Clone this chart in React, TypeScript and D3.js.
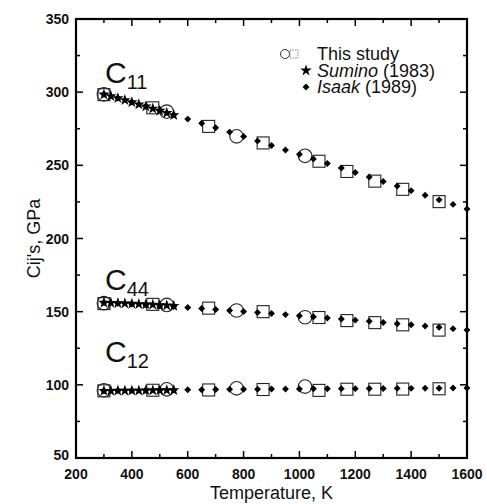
import React from "react";
import * as d3 from "d3";

// ---- data ----
const T_CIRC = [300, 525, 775, 1020];
const C11_CIRC = [298.5, 286.7, 269.8, 256.5];
const C44_CIRC = [155.8, 154.6, 150.8, 146.2];
const C12_CIRC = [96.3, 96.9, 97.6, 98.8];

const T_SQ = [300, 475, 675, 870, 1070, 1170, 1270, 1370, 1500];
const C11_SQ = [298.3, 289.3, 276.6, 265.3, 252.8, 245.8, 239.2, 233.6, 225.2];
const C44_SQ = [155.5, 155.0, 152.4, 150.0, 146.0, 143.9, 142.5, 141.0, 137.4];
const C12_SQ = [95.9, 96.3, 96.5, 96.8, 96.2, 97.0, 97.0, 97.1, 97.3];

const T_SUMINO = [300, 325, 350, 375, 400, 425, 450, 475, 500, 525, 550];
const C11_SUMINO = [298.4, 297.3, 296.0, 294.6, 293.1, 291.7, 290.2, 288.8, 287.3, 285.8, 284.3];
const C44_SUMINO = [156.1, 156.0, 155.8, 155.6, 155.4, 155.2, 155.0, 154.8, 154.5, 154.3, 154.0];
const C12_SUMINO = [95.9, 95.9, 96.0, 96.0, 96.1, 96.1, 96.2, 96.2, 96.3, 96.3, 96.4];

const T_ISAAK = [300, 350, 400, 450, 500, 550, 600, 650, 700, 750, 800, 850, 900, 950, 1000,
  1050, 1100, 1150, 1200, 1250, 1300, 1350, 1400, 1450, 1500, 1550, 1600];
const C11_ISAAK = [298.5, 296.0, 293.2, 290.4, 287.6, 284.6, 281.6, 278.7, 275.7, 272.7, 269.7,
  266.7, 263.6, 260.5, 257.5, 254.4, 251.3, 248.2, 245.1, 242.0, 238.9, 235.8, 232.7, 229.5,
  226.4, 223.3, 220.2];
const C44_ISAAK = [156.2, 155.8, 155.3, 154.7, 154.1, 153.5, 152.9, 152.2, 151.5, 150.8, 150.1,
  149.4, 148.7, 148.0, 147.2, 146.5, 145.7, 145.0, 144.2, 143.4, 142.6, 141.8, 141.0, 140.2,
  139.3, 138.4, 137.5];
const C12_ISAAK = [96.0, 96.1, 96.2, 96.3, 96.4, 96.5, 96.6, 96.7, 96.8, 96.9, 97.0, 97.0, 97.1,
  97.2, 97.2, 97.3, 97.3, 97.4, 97.4, 97.5, 97.5, 97.6, 97.6, 97.7, 97.7, 97.8, 97.8];

const X_TICKS = [200, 400, 600, 800, 1000, 1200, 1400, 1600];
const X_MINOR = [300, 500, 700, 900, 1100, 1300, 1500];
const Y_TICKS = [50, 100, 150, 200, 250, 300, 350];
const Y_MINOR = [75, 125, 175, 225, 275, 325];

const LABELS = [
  { main: "C", sub: "11", v: 306.5 },
  { main: "C", sub: "44", v: 165 },
  { main: "C", sub: "12", v: 115.8 },
];

const LEGEND = [
  { kind: "study", text: "This study", italic: "" },
  { kind: "star", text: " (1983)", italic: "Sumino" },
  { kind: "diamond", text: " (1989)", italic: "Isaak" },
];

export default function App() {
  const W = 487, H = 504;
  const L = 76, R = 467, T = 19, B = 458;
  const x = d3.scaleLinear().domain([200, 1600]).range([L, R]);
  const y = d3.scaleLinear().domain([50, 350]).range([B, T]);
  const font = "'Liberation Sans', Arial, Helvetica, sans-serif";

  const star = d3.symbol().type(d3.symbolStar).size(42)();
  const diamond = d3.symbol().type(d3.symbolSquare).size(24)();
  const sq = 12;
  const rC = 6.8;

  const series = [
    { circ: C11_CIRC, sq: C11_SQ, sum: C11_SUMINO, isa: C11_ISAAK },
    { circ: C44_CIRC, sq: C44_SQ, sum: C44_SUMINO, isa: C44_ISAAK },
    { circ: C12_CIRC, sq: C12_SQ, sum: C12_SUMINO, isa: C12_ISAAK },
  ];

  const maj = 7, mnr = 4;

  return (
    <svg width={W} height={H} style={{ position: "absolute", left: 0, top: 0, background: "#fff" }}
      fontFamily={font}>
      <rect width={W} height={H} fill="#fff" />
      {/* ticks */}
      <g stroke="#000" strokeWidth={1.5}>
        {X_TICKS.map((t) => (
          <g key={"xt" + t}>
            <line x1={x(t)} x2={x(t)} y1={B} y2={B - maj} />
            <line x1={x(t)} x2={x(t)} y1={T} y2={T + maj} />
          </g>
        ))}
        {X_MINOR.map((t) => (
          <g key={"xm" + t}>
            <line x1={x(t)} x2={x(t)} y1={B} y2={B - mnr} />
            <line x1={x(t)} x2={x(t)} y1={T} y2={T + mnr} />
          </g>
        ))}
        {Y_TICKS.map((t) => (
          <g key={"yt" + t}>
            <line y1={y(t)} y2={y(t)} x1={L} x2={L + maj} />
            <line y1={y(t)} y2={y(t)} x1={R} x2={R - maj} />
          </g>
        ))}
        {Y_MINOR.map((t) => (
          <g key={"ym" + t}>
            <line y1={y(t)} y2={y(t)} x1={L} x2={L + mnr} />
            <line y1={y(t)} y2={y(t)} x1={R} x2={R - mnr} />
          </g>
        ))}
      </g>
      <rect x={L} y={T} width={R - L} height={B - T} fill="none" stroke="#000" strokeWidth={2.2} />

      {/* tick labels */}
      <g fontSize={14} fontWeight="bold" fill="#111">
        {X_TICKS.map((t) => (
          <text key={"xl" + t} x={x(t)} y={479} textAnchor="middle">{t}</text>
        ))}
        {Y_TICKS.map((t) => (
          <text key={"yl" + t} x={L - 7} y={y(t) + (t === 50 ? 2 : 5)} textAnchor="end">{t}</text>
        ))}
      </g>
      <text x={(L + R) / 2} y={499} textAnchor="middle" fontSize={18} fill="#111">Temperature, K</text>
      <text transform={`translate(40,${(T + B) / 2}) rotate(-90)`} textAnchor="middle" fontSize={18} fill="#111">
        Cij's, GPa
      </text>

      {/* data */}
      {series.map((s, i) => (
        <g key={"s" + i}>
          {T_SQ.map((t, j) => (
            <rect key={"q" + j} x={x(t) - sq / 2} y={y(s.sq[j]) - sq / 2} width={sq} height={sq}
              fill="none" stroke="#222" strokeWidth={1.1} />
          ))}
          {T_CIRC.map((t, j) => (
            <circle key={"c" + j} cx={x(t)} cy={y(s.circ[j])} r={rC} fill="none" stroke="#222" strokeWidth={1.1} />
          ))}
          {T_SUMINO.map((t, j) => (
            <path key={"st" + j} d={star} transform={`translate(${x(t)},${y(s.sum[j])})`} fill="#000" />
          ))}
          {T_ISAAK.map((t, j) => (
            <path key={"d" + j} d={diamond} transform={`translate(${x(t)},${y(s.isa[j])}) rotate(45)`} fill="#000" />
          ))}
        </g>
      ))}

      {/* labels */}
      {LABELS.map((l) => (
        <text key={l.sub} x={105} y={y(l.v)} fontSize={30} fill="#111">
          {l.main}
          <tspan fontSize={20} dy={6}>{l.sub}</tspan>
        </text>
      ))}

      {/* legend */}
      <g fontSize={18} fill="#111">
        <circle cx={285} cy={54} r={4.5} fill="none" stroke="#333" strokeWidth={1} />
        <rect x={290} y={50} width={8} height={8} fill="none" stroke="#888" strokeWidth={1} strokeDasharray="1.5,1" />
        <path d={star} transform="translate(306,70.5)" fill="#000" />
        <path d={diamond} transform="translate(306,87) rotate(45)" fill="#000" />
        {LEGEND.map((e, i) => (
          <text key={e.kind} x={317} y={60 + i * 16.5}>
            {e.italic ? <tspan fontStyle="italic">{e.italic}</tspan> : null}
            {e.text}
          </text>
        ))}
      </g>
    </svg>
  );
}
